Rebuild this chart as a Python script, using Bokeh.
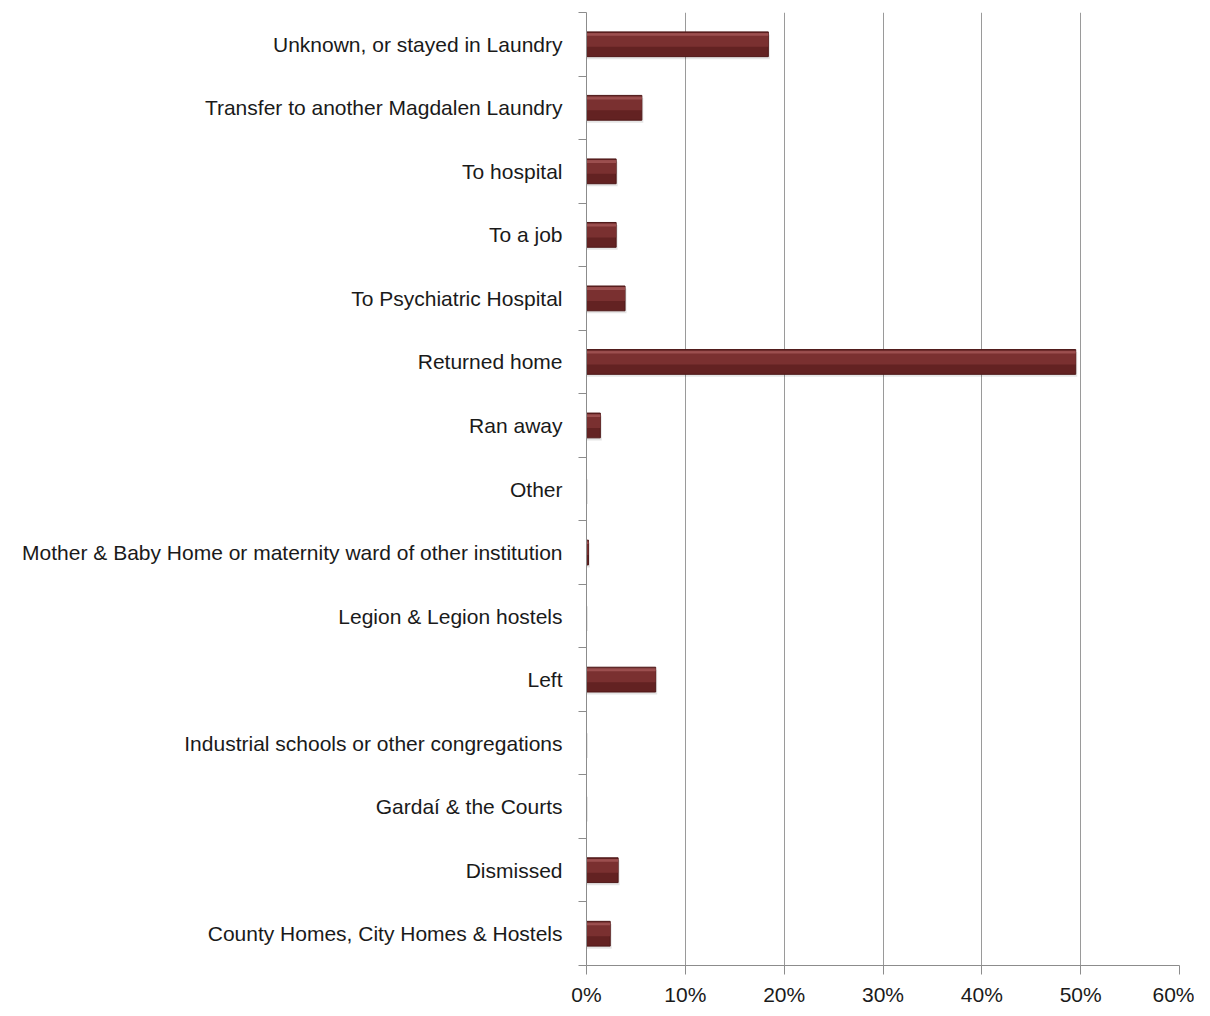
from bokeh.plotting import figure
from bokeh.models import ColumnDataSource, FixedTicker, NumeralTickFormatter, Range1d
from bokeh.transform import dodge
from bokeh.embed import file_html
from bokeh.resources import INLINE

categories = [
    "County Homes, City Homes & Hostels",
    "Dismissed",
    "Gardaí & the Courts",
    "Industrial schools or other congregations",
    "Left",
    "Legion & Legion hostels",
    "Mother & Baby Home or maternity ward of other institution",
    "Other",
    "Ran away",
    "Returned home",
    "To Psychiatric Hospital",
    "To a job",
    "To hospital",
    "Transfer to another Magdalen Laundry",
    "Unknown, or stayed in Laundry",
]
shares = [0.024, 0.032, 0.0, 0.0, 0.070, 0.0, 0.002, 0.0, 0.014, 0.495, 0.039, 0.030, 0.030, 0.056, 0.184]
x_ticks = [0, 0.1, 0.2, 0.3, 0.4, 0.5, 0.6]

n = len(categories)
centers = [i + 0.5 for i in range(n)]
bounds = [float(i) for i in range(n + 1)]

src = ColumnDataSource(dict(y=centers, v=shares, cat=categories))

p = figure(width=1194, height=1008, output_backend="svg", toolbar_location=None,
           x_range=Range1d(0, 0.6), y_range=Range1d(0, n),
           min_border_left=586, min_border_right=15, min_border_top=12, min_border_bottom=42)
p.outline_line_color = None
p.border_fill_color = "white"
p.background_fill_color = "white"

# soft shadow
p.hbar(y=dodge("y", -0.04, range=p.y_range), right=dodge("v", 0.0015, range=p.x_range), left=0,
       height=0.39, source=src, fill_color="#000000", fill_alpha=0.10, line_color=None)
# main bar
p.hbar(y="y", right="v", left=0, height=0.39, source=src,
       fill_color="#632222", line_color="#4e1818", line_width=1)
# upper tone
p.hbar(y=dodge("y", 0.06, range=p.y_range), right="v", left=0, height=0.2, source=src,
       fill_color="#7a3030", line_color=None)
# bevel highlight
p.hbar(y=dodge("y", 0.155, range=p.y_range), right="v", left=0, height=0.045, source=src,
       fill_color="#a85a5a", line_color=None, fill_alpha=0.75)

# x axis
p.xaxis.ticker = FixedTicker(ticks=x_ticks)
p.xaxis.formatter = NumeralTickFormatter(format="0%")
p.xaxis.axis_line_color = "#8c8c8c"
p.xaxis.major_tick_line_color = "#8c8c8c"
p.xaxis.major_tick_out = 9
p.xaxis.major_tick_in = 0
p.xaxis.minor_tick_line_color = None
p.xaxis.major_label_standoff = 8
p.xaxis.major_label_text_font = "Liberation Sans"
p.xaxis.major_label_text_font_size = "21px"
p.xaxis.major_label_text_color = "#1a1a1a"

# y axis
p.yaxis.ticker = FixedTicker(ticks=centers, minor_ticks=bounds)
p.yaxis.major_label_overrides = {c: lab for c, lab in zip(centers, categories)}
p.yaxis.axis_line_color = "#8c8c8c"
p.yaxis.major_tick_line_color = None
p.yaxis.major_tick_out = 0
p.yaxis.major_tick_in = 0
p.yaxis.minor_tick_line_color = "#8c8c8c"
p.yaxis.minor_tick_out = 8
p.yaxis.minor_tick_in = 0
p.yaxis.major_label_standoff = 16
p.yaxis.major_label_text_font = "Liberation Sans"
p.yaxis.major_label_text_font_size = "21px"
p.yaxis.major_label_text_color = "#1a1a1a"

p.xgrid.ticker = FixedTicker(ticks=x_ticks)
p.xgrid.grid_line_color = "#9a9a9a"
p.xgrid.grid_line_width = 1
p.ygrid.grid_line_color = None

open("out.html", "w").write(file_html(p, INLINE))
